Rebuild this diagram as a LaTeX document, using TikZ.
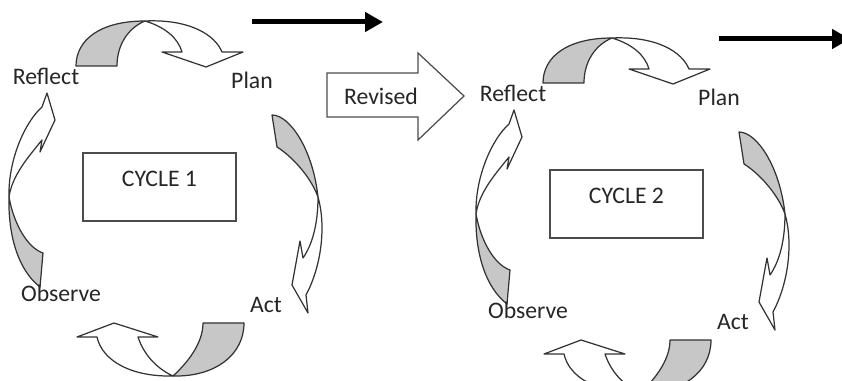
\documentclass[tikz,border=0pt]{standalone}
\usepackage{fontspec}
\setmainfont{Carlito}
\usepackage{tikz}
\usetikzlibrary{positioning}
\usetikzlibrary{arrows.meta}
\newcommand{\stagefont}{\fontsize{13.5}{16}\selectfont}

\begin{document}
\begin{tikzpicture}[x=0.02cm, y=-0.02cm, >={Triangle[length=0.36cm,width=0.38cm]}, line width=0.7pt,
	bandback/.style={draw=black!80, fill=black!22, line join=round},
	bandfront/.style={draw=black!80, fill=white, line join=round},
	stage/.style={anchor=base, text=black!85, font=\stagefont},
	cyclebox/.style={draw=black!70, anchor=base, inner sep=0pt, minimum width=3.06cm, text height=0.68cm, text depth=0.68cm, text=black!85, font=\stagefont}]

	\clip (0,0) rectangle (842,381);

	\foreach \dx/\dy/\n in {0/0/1, 467/17/2} {
	\begin{scope}[shift={(\dx,\dy)}]
		% reflect -> plan
		\draw[bandback] (76,66) .. controls (76,40) and (100,21) .. (145,21) .. controls (128,28) and (117,45) .. (117,66) -- cycle;
		\draw[bandfront] (145,21) .. controls (190,19) and (215,35) .. (222,52) -- (243,52) -- (206,67) -- (162,52) -- (182,52) .. controls (178,38) and (165,27) .. (145,21) -- cycle;
		% plan -> act
		\draw[bandback] (272,115) .. controls (290,115) and (313,150) .. (318,197) .. controls (310,175) and (290,155) .. (277,147) -- cycle;
		\draw[bandfront] (318,197) .. controls (326,225) and (322,265) .. (306,295) -- (308,313) -- (292,285) -- (300,241) -- (303,258) .. controls (312,245) and (318,225) .. (318,197) -- cycle;
		% act -> observe
		\draw[bandback] (244,323) .. controls (244,355) and (215,377) .. (173,376) .. controls (185,365) and (203,345) .. (203,323) -- cycle;
		\draw[bandfront] (173,376) .. controls (130,377) and (102,360) .. (97,337) -- (77,337) -- (114,323) -- (158,337) -- (138,337) .. controls (145,358) and (160,370) .. (173,376) -- cycle;
		% observe -> reflect
		\draw[bandback] (40,287) .. controls (18,270) and (8,235) .. (9,197) .. controls (14,225) and (28,248) .. (43,253) -- cycle;
		\draw[bandfront] (9,197) .. controls (8,160) and (25,122) .. (42,107) -- (47,93) -- (55,120) -- (40,152) -- (42,140) .. controls (30,155) and (12,175) .. (9,197) -- cycle;

		\node[stage] (refl\n) at (46,85) {Reflect};
		\node[stage] (plan\n) at (252,89) {Plan};
		\node[stage] (obs\n) at (61,302) {Observe};
		\node[stage] (act\n) at (266,313) {Act};
		\node[cyclebox] (cycle\n) at (159.5,187) {CYCLE \n};

		\coordinate (go\n) at (252,22);
		\coordinate (goend\n) at (383,22);
		\draw[->, line width=0.1cm] (go\n) -- (goend\n);
	\end{scope}
	}

	% revised block arrow
	\draw[draw=black!70, fill=white] (327,73) -- (418,73) -- (418,53) -- (464,96) -- (418,140) -- (418,117) -- (327,117) -- cycle;
	\node[stage] (revised) at (381,105) {Revised};
\end{tikzpicture}
\end{document}
